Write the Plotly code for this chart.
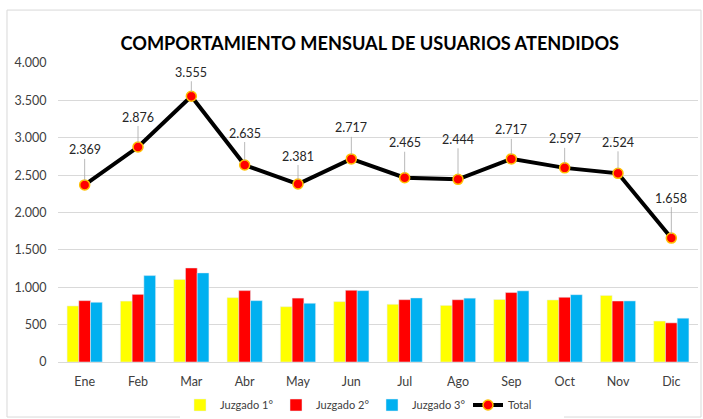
import plotly.graph_objects as go

meses = ["Ene", "Feb", "Mar", "Abr", "May", "Jun", "Jul", "Ago", "Sep", "Oct", "Nov", "Dic"]
juzgado1 = [750, 815, 1105, 861, 740, 808, 772, 757, 836, 830, 891, 548]
juzgado2 = [821, 905, 1258, 955, 855, 960, 834, 833, 929, 866, 816, 524]
juzgado3 = [799, 1156, 1192, 821, 786, 955, 857, 854, 952, 901, 817, 586]
total = [2369, 2876, 3555, 2635, 2381, 2717, 2465, 2444, 2717, 2597, 2524, 1658]
label_offsets = [-35, -30, -24, -32, -28, -31, -35, -40, -29, -29, -31, -40]

FONT = "Lato"

fig = go.Figure()
fig.add_trace(go.Bar(name="Juzgado 1°", x=meses, y=juzgado1, marker_color="#FFFF00"))
fig.add_trace(go.Bar(name="Juzgado 2°", x=meses, y=juzgado2, marker_color="#FF0000"))
fig.add_trace(go.Bar(name="Juzgado 3°", x=meses, y=juzgado3, marker_color="#00B0F0"))
fig.add_trace(go.Scatter(
    name="Total", x=meses, y=total, mode="lines+markers",
    line=dict(color="black", width=4),
    marker=dict(color="#FF0000", size=10, line=dict(color="#FFC000", width=1.5)),
))

for m, v, off in zip(meses, total, label_offsets):
    fig.add_annotation(
        x=m, y=v, text=f"{v:,}".replace(",", "."),
        showarrow=True, arrowhead=0, arrowwidth=0.8, arrowcolor="#A6A6A6",
        ax=0, ay=off, standoff=4,
        font=dict(family=FONT, size=12.5, color="#262626"),
    )

fig.update_layout(
    width=703, height=419,
    margin=dict(l=58, r=5, t=63, b=57, autoexpand=False),
    paper_bgcolor="white", plot_bgcolor="white",
    separators=",.",
    barmode="group", bargap=0.34, bargroupgap=0,
    font=dict(family=FONT, size=12, color="#595959"),
    title=dict(text="<b>COMPORTAMIENTO MENSUAL DE USUARIOS ATENDIDOS</b>",
               x=0.526, xanchor="center", xref="container",
               y=(419 - 44) / 419, yref="container", yanchor="middle",
               font=dict(family=FONT, size=18.2, color="black")),
    showlegend=True,
    legend=dict(orientation="h", x=180 / 703, xref="container", xanchor="left",
                y=(419 - 405) / 419, yref="container", yanchor="middle",
                font=dict(family=FONT, size=11, color="#404040"),
                entrywidth=51, entrywidthmode="pixels",
                itemwidth=30, traceorder="normal"),
    shapes=[dict(type="rect", xref="paper", yref="paper",
                 x0=-0.0797, x1=1.0047, y0=-0.184, y1=1.177,
                 line=dict(color="#D9D9D9", width=1), layer="below")],
)
fig.update_xaxes(range=[-0.5, len(meses) - 0.5], showgrid=False, showline=True,
                 linecolor="#D9D9D9", linewidth=1, automargin=False,
                 ticks="outside", ticklen=8, tickcolor="rgba(0,0,0,0)",
                 tickfont=dict(family=FONT, size=12.5, color="#404040"))
fig.update_yaxes(range=[0, 4000], dtick=500, tickformat=",d", automargin=False,
                 showgrid=True, gridcolor="#D9D9D9", gridwidth=1, zeroline=False,
                 ticks="outside", ticklen=8, tickcolor="rgba(0,0,0,0)",
                 tickfont=dict(family=FONT, size=12.5, color="#404040"))

fig.write_html("out.html", config={"displayModeBar": False},
               post_script="document.body.style.margin='0';document.body.style.overflow='hidden';")
